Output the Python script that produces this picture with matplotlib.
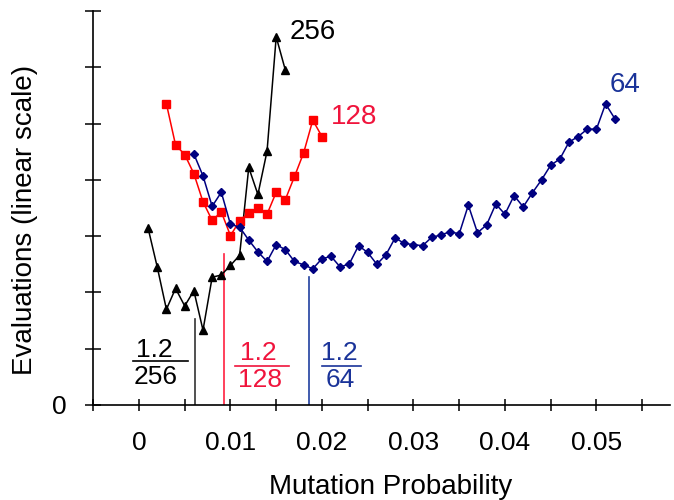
import numpy as np
import matplotlib
matplotlib.use("Agg")
import matplotlib.pyplot as plt
from matplotlib.ticker import MultipleLocator, FixedLocator

plt.rcParams['font.family'] = ['Liberation Sans', 'DejaVu Sans']

# mutation probability steps for each population size
x_256 = np.arange(1, 17) / 1000.0
x_128 = np.arange(3, 21) / 1000.0
x_64 = np.arange(6, 53) / 1000.0

# evaluations (linear scale, arbitrary units)
y_256 = [3.14, 2.45, 1.70, 2.07, 1.76, 2.03, 1.33, 2.27, 2.31, 2.48, 2.66,
         4.22, 3.74, 4.51, 6.54, 5.95]
y_128 = [5.35, 4.62, 4.45, 4.11, 3.61, 3.28, 3.43, 3.01, 3.27, 3.42, 3.50,
         3.39, 3.78, 3.65, 4.06, 4.48, 5.06, 4.77]
y_64 = [4.46, 4.07, 3.53, 3.78, 3.21, 3.16, 2.93, 2.72, 2.55, 2.85, 2.76,
        2.55, 2.49, 2.42, 2.60, 2.64, 2.45, 2.51, 2.83, 2.71, 2.50, 2.67,
        2.97, 2.87, 2.85, 2.83, 2.98, 3.02, 3.08, 3.04, 3.55, 3.06, 3.20,
        3.57, 3.39, 3.72, 3.52, 3.77, 4.00, 4.26, 4.37, 4.67, 4.77, 4.90,
        4.90, 5.35, 5.09]

# cutoff markers near 1.2/N
cut_x = [0.0061, 0.0093, 0.0186]
cut_top = [1.53, 2.69, 2.28]
cut_labels = ["256", "128", "64"]

fig = plt.figure(figsize=(6.74, 5.0), dpi=100)
ax = fig.add_axes([0.1383, 0.19, 0.8552, 0.788])

ax.plot(x_256, y_256, color='black', lw=1.1, marker='^', ms=5.5, zorder=3)
ax.plot(x_128, y_128, color='#ff0000', lw=1.1, marker='s', ms=5.8, zorder=3)
ax.plot(x_64, y_64, color='#000080', lw=1.1, marker='D', ms=4.0, zorder=3)

text_cols = ['black', '#f0143c', '#1a3399']
line_cols = ['#333333', '#ff2040', '#2040a0']
for xc, top, col in zip(cut_x, cut_top, line_cols):
    ax.plot([xc, xc], [0, top], color=col, lw=1.2, zorder=2)

# series labels
ax.text(0.01897, 6.62, "256", color=text_cols[0], fontsize=20, ha='center', va='center')
ax.text(0.02351, 5.11, "128", color=text_cols[1], fontsize=20, ha='center', va='center')
ax.text(0.05313, 5.68, "64", color=text_cols[2], fontsize=20, ha='center', va='center')

# fractions 1.2/N beside the cutoff lines
frac = [
    (0.00165, 0.0018, 0.98, 0.50, -0.00064, 0.00537, 0.787),
    (0.0130, 0.0132, 0.92, 0.44, 0.0105, 0.0164, 0.70),
    (0.0219, 0.0220, 0.92, 0.44, 0.02004, 0.02424, 0.70),
]
for (xn, xd, yn, yd, b0, b1, yb), lab, col in zip(frac, cut_labels, text_cols):
    ax.text(xn, yn, "1.2", color=col, fontsize=19, ha='center', va='center')
    ax.text(xd, yd, lab, color=col, fontsize=19, ha='center', va='center')
    ax.plot([b0, b1], [yb, yb], color=col, lw=1.2, clip_on=False)

ax.set_xlim(-0.005, 0.058)
ax.set_ylim(0, 7)
ax.spines['top'].set_visible(False)
ax.spines['right'].set_visible(False)
ax.spines['left'].set_linewidth(1.2)
ax.spines['bottom'].set_linewidth(1.2)

ax.xaxis.set_major_locator(FixedLocator([0, 0.01, 0.02, 0.03, 0.04, 0.05]))
ax.xaxis.set_minor_locator(MultipleLocator(0.005))
ax.set_xticklabels(["0", "0.01", "0.02", "0.03", "0.04", "0.05"])
ax.yaxis.set_major_locator(FixedLocator([0]))
ax.yaxis.set_minor_locator(MultipleLocator(1))
ax.set_yticklabels(["0"])

ax.tick_params(axis='x', which='both', direction='inout', length=9, width=1.1, labelsize=19, pad=14)
ax.tick_params(axis='y', which='both', direction='inout', length=11, width=1.1, labelsize=19, pad=14)

fig.text(0.579, 0.026, "Mutation Probability", fontsize=20, ha='center', va='center')
fig.text(0.037, 0.56, "Evaluations (linear scale)", fontsize=20, ha='center', va='center', rotation=90)

fig.savefig("out.png", dpi=100)
